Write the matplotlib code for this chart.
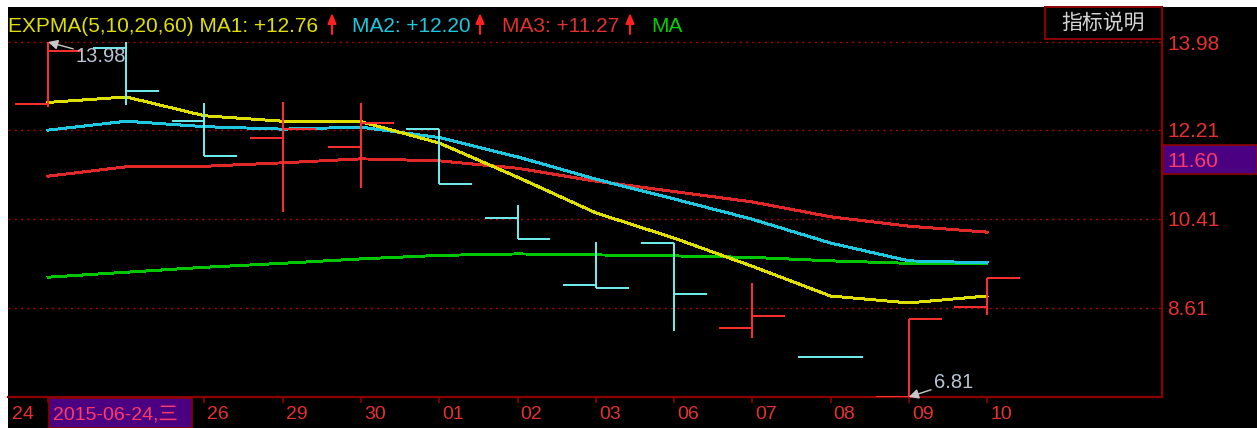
import matplotlib.pyplot as plt
from matplotlib.patches import Rectangle
from matplotlib.transforms import offset_copy

days = ['24', '25', '26', '29', '30', '01', '02', '03', '06', '07', '08', '09', '10']
opens = [12.73, 13.86, 12.38, 12.04, 11.86, 12.22, 10.42, 9.07, 9.92, 8.20, 7.62, 6.81, 8.63]
highs = [13.98, 13.98, 12.75, 12.77, 12.75, 12.22, 10.69, 9.94, 9.92, 9.11, 7.62, 8.38, 9.21]
lows = [12.67, 12.71, 11.68, 10.55, 11.03, 11.11, 10.00, 9.01, 8.14, 8.00, 7.62, 6.81, 8.47]
closes = [13.80, 12.99, 11.68, 12.22, 12.34, 11.11, 10.00, 9.01, 8.89, 8.44, 7.62, 8.38, 9.21]

ma1 = [12.76, 12.87, 12.49, 12.38, 12.37, 11.94, 11.25, 10.53, 10.02, 9.45, 8.85, 8.71, 8.85]
ma2 = [12.20, 12.38, 12.27, 12.22, 12.26, 12.05, 11.66, 11.21, 10.81, 10.40, 9.92, 9.56, 9.52]
ma3 = [11.27, 11.46, 11.47, 11.54, 11.62, 11.58, 11.43, 11.17, 10.96, 10.75, 10.45, 10.26, 10.14]
ma4 = [9.23, 9.33, 9.43, 9.51, 9.60, 9.67, 9.70, 9.68, 9.66, 9.63, 9.56, 9.51, 9.50]

price_ticks = [13.98, 12.21, 10.41, 8.61]
legend_vals = ['+12.76', '+12.20', '+11.27']
cursor_date = '2015-06-24,三'
cursor_price = '11.60'
high_label = '13.98'
low_label = '6.81'

W, H = 1257, 428
RED = '#e83030'
DARK = '#8c0000'
FONT = ['Liberation Sans', 'DejaVu Sans']
CJK = ['Liberation Sans', 'Noto Sans CJK SC', 'DejaVu Sans']

fig = plt.figure(figsize=(W / 100, H / 100), dpi=100, facecolor='white')
fig.add_artist(Rectangle((8 / W, 0), 1 - 8 / W, 1 - 7 / H, transform=fig.transFigure,
                         facecolor='black', edgecolor='none', zorder=-10))

ax = fig.add_axes([8 / W, (H - 397) / H, (1162 - 8) / W, (397 - 7) / H])
ax.set_facecolor('black')
ax.set_xlim(-0.511, 14.236)
ax.set_ylim(6.81, 14.687)

for s in ['top', 'left']:
    ax.spines[s].set_visible(False)
for s in ['right', 'bottom']:
    ax.spines[s].set_color(DARK)
    ax.spines[s].set_linewidth(1.6)

# grid
for p in price_ticks:
    ax.axhline(p, color='#b00000', lw=1.0, dashes=(1.5, 3), zorder=1)

# moving averages
x = list(range(len(days)))
ax.plot(x, ma4, color='#00c800', lw=1.4, antialiased=False, zorder=2)
ax.plot(x, ma3, color='#e02828', lw=1.4, antialiased=False, zorder=2)
ax.plot(x, ma2, color='#1ec8e0', lw=1.4, antialiased=False, zorder=2)
ax.plot(x, ma1, color='#e0e000', lw=1.4, antialiased=False, zorder=2)

# ohlc bars
tick = 0.42
for i in x:
    c = '#ff3030' if closes[i] > opens[i] else '#70f0f0'
    ax.vlines(i, lows[i], highs[i], color=c, lw=1.4, zorder=3)
    ax.hlines(opens[i], i - tick, i, color=c, lw=1.4, zorder=3)
    ax.hlines(closes[i], i, i + tick, color=c, lw=1.4, zorder=3)

# high / low markers
ax.annotate(high_label, xy=(0, highs[0]), xytext=(28, -20), textcoords='offset pixels',
            color='#b8c4d4', fontsize=14.5, family=FONT, va='baseline',
            arrowprops=dict(arrowstyle='-|>', color='#c8c8c8', lw=1, shrinkA=0, shrinkB=0),
            zorder=5)
ax.annotate(low_label, xy=(11, lows[11]), xytext=(25, 9), textcoords='offset pixels',
            color='#b8c4d4', fontsize=14.5, family=FONT, va='baseline',
            arrowprops=dict(arrowstyle='-|>', color='#c8c8c8', lw=1, shrinkA=0, shrinkB=0),
            zorder=5, annotation_clip=False)

# right axis
ax.yaxis.tick_right()
ax.set_yticks(price_ticks)
ax.set_yticklabels(['%.2f' % p for p in price_ticks], color=RED, fontsize=15, family=FONT)
ax.tick_params(axis='y', length=0, pad=4)

# bottom axis
ax.set_xticks(x)
ax.set_xticklabels([])
ax.tick_params(axis='x', length=4.5, width=1.2, color=DARK, direction='out')
lab_tr = offset_copy(ax.get_xaxis_transform(), fig=fig, x=3, y=-22, units='dots')
for i in x[2:]:
    ax.text(i, 0, days[i], transform=lab_tr, color=RED, fontsize=14, family=FONT,
            ha='left', va='baseline')
fig.text(12 / W, 1 - 419 / H, days[0], color=RED, fontsize=14, family=FONT, va='baseline')

# cursor date box
fig.add_artist(Rectangle((49 / W, 0), 143 / W, 30 / H, transform=fig.transFigure,
                         facecolor='#4b0082', edgecolor=DARK, lw=1.2))
fig.text(53 / W, 1 - 419 / H, cursor_date, color='#ff3a6a', fontsize=14, family=CJK,
         va='baseline')

# cursor price box
fig.add_artist(Rectangle((1163 / W, (H - 174) / H), 94 / W, 29 / H, transform=fig.transFigure,
                         facecolor='#4b0082', edgecolor=DARK, lw=1.2))
fig.text(1167 / W, 1 - 167 / H, cursor_price, color='#ff3a6a', fontsize=15, family=FONT,
         va='baseline')

# indicator button
fig.add_artist(Rectangle((1045 / W, 1 - 39 / H), 117 / W, 32 / H, transform=fig.transFigure,
                         facecolor='black', edgecolor=DARK, lw=1.4))
fig.text(1103 / W, 1 - 23 / H, '指标说明', color='#d4d4d4', fontsize=15,
         family=['Noto Sans CJK SC', 'DejaVu Sans'], ha='center', va='center')

# legend line
base = 1 - 32 / H
fig.text(8 / W, base, 'EXPMA(5,10,20,60) MA1: ' + legend_vals[0], color='#e0e000',
         fontsize=15, family=FONT, va='baseline')
fig.text(352 / W, base, 'MA2: ' + legend_vals[1], color='#1ec8e0', fontsize=15,
         family=FONT, va='baseline')
fig.text(502 / W, base, 'MA3: ' + legend_vals[2], color='#e03030', fontsize=15,
         family=FONT, va='baseline')
fig.text(651 / W, base, 'MA', color='#00d000', fontsize=15, family=FONT, va='baseline')
# up arrows after each value
for cx in [332, 480, 630]:
    fig.add_artist(plt.Annotation('', xy=(cx, H - 13), xytext=(cx, H - 34),
                                  xycoords='figure pixels', textcoords='figure pixels',
                                  arrowprops=dict(arrowstyle='-|>,head_length=0.6,head_width=0.25',
                                                  color='#ff2020', lw=1.5,
                                                  shrinkA=0, shrinkB=0)))

fig.savefig('out.png', dpi=100, facecolor=fig.get_facecolor())
